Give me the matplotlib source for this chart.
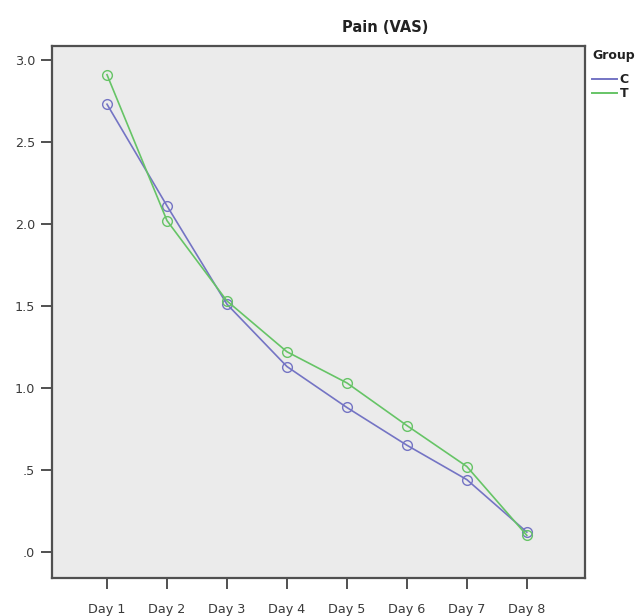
import matplotlib
matplotlib.use("Agg")
import matplotlib.pyplot as plt
from matplotlib.ticker import FuncFormatter

# Mean pain (VAS) per day for the two groups
days = ["Day 1", "Day 2", "Day 3", "Day 4", "Day 5", "Day 6", "Day 7", "Day 8"]
group_c = [2.73, 2.11, 1.51, 1.13, 0.88, 0.65, 0.44, 0.12]
group_t = [2.91, 2.02, 1.53, 1.22, 1.03, 0.77, 0.52, 0.10]
y_ticks = [0.0, 0.5, 1.0, 1.5, 2.0, 2.5, 3.0]

blue = "#7474C4"
green = "#66C466"

fig = plt.figure(figsize=(6.41, 6.16), dpi=100)
ax = fig.add_axes([52 / 641, 1 - 578 / 616, (585 - 52) / 641, (578 - 46) / 616])
ax.set_facecolor("#EBEBEB")

x = list(range(1, len(days) + 1))
ax.plot(x, group_c, color=blue, lw=1.2, marker="o", ms=7, mfc="none", mec=blue, mew=1.0, label="C")
ax.plot(x, group_t, color=green, lw=1.2, marker="o", ms=7, mfc="none", mec=green, mew=1.0, label="T")

ax.set_xlim(0.083, 8.97)
ax.set_ylim(-0.16, 3.085)
ax.set_xticks(x)
ax.set_xticklabels(days)
ax.set_yticks(y_ticks)
ax.yaxis.set_major_formatter(FuncFormatter(lambda v, p: ("%.1f" % v).lstrip("0") if v < 1 else "%.1f" % v))

for s in ax.spines.values():
    s.set_color("#505050")
    s.set_linewidth(1.6)
ax.tick_params(axis="both", length=8, width=1.4, color="#505050", labelsize=9.2, labelcolor="#3a3a3a")
ax.tick_params(axis="x", pad=10)
ax.tick_params(axis="y", pad=4)

fig.text(385 / 641, 1 - 28 / 616, "Pain (VAS)", ha="center", va="center", fontsize=10.5, fontweight="bold", color="#222222")

leg = fig.legend(loc="upper left", bbox_to_anchor=(592 / 641, 1 - 49 / 616), frameon=False, title="Group",
                 handlelength=2.0, handletextpad=0.2, labelspacing=0.1, fontsize=9,
                 title_fontsize=9, borderpad=0, borderaxespad=0)
leg.get_title().set_fontweight("bold")
leg.get_title().set_color("#222222")
leg._legend_box.align = "left"
leg._legend_box.sep = 8
for line in leg.get_lines():
    line.set_marker("")
    line.set_linewidth(1.4)
for t in leg.get_texts():
    t.set_fontweight("bold")
    t.set_color("#222222")

fig.savefig("out.png", dpi=100, facecolor="white")
